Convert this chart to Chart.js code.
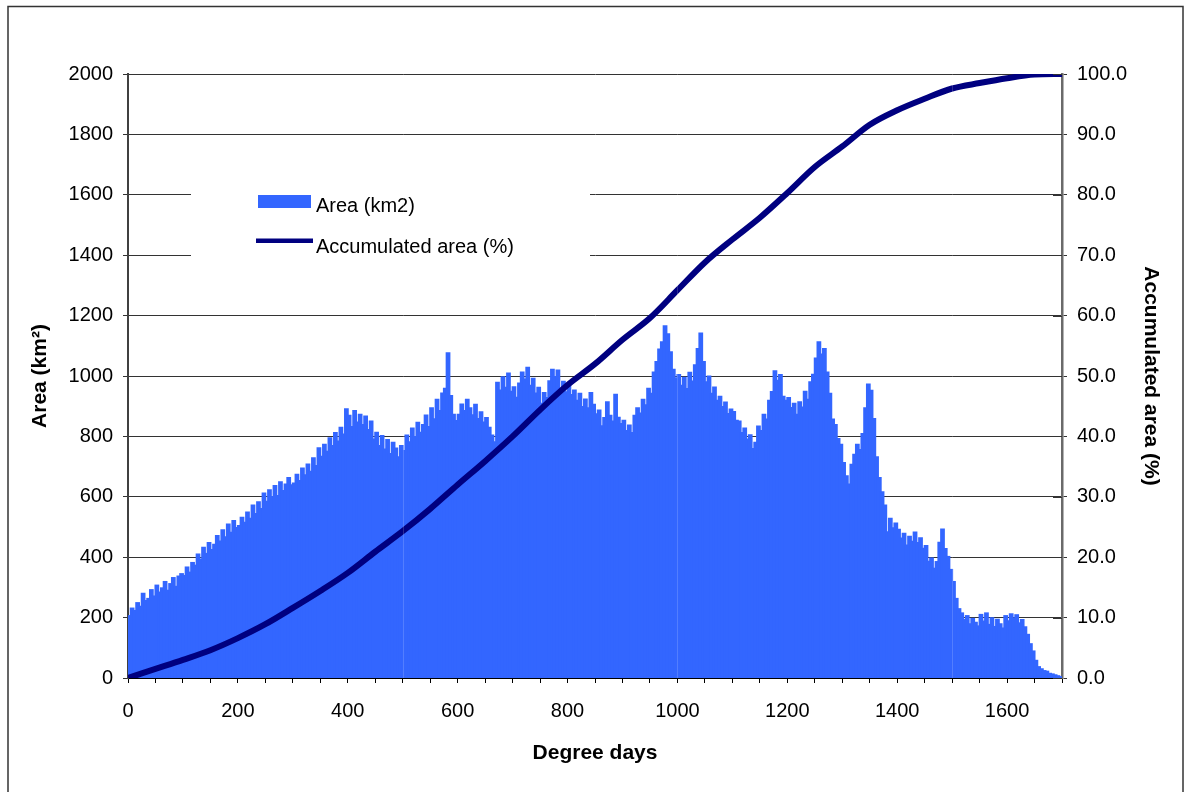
<!DOCTYPE html>
<html>
<head>
<meta charset="utf-8">
<script src="https://cdn.jsdelivr.net/npm/chart.js@4.4.0/dist/chart.umd.min.js"></script>
<style>
  html, body { margin: 0; padding: 0; background: #fff; }
  #wrap { width: 1191px; height: 792px; position: relative; }
</style>
</head>
<body>
<div id="wrap"><canvas id="c" width="1191" height="792"></canvas></div>
<script>
// Histogram bins are 5 degree days wide, starting at 0
const BIN_WIDTH = 5;

// Area (km2) per bin, one row per 100 degree days
const areaKm2 = [
  205, 230, 222, 248, 236, 279, 255, 262, 291, 270, 306, 283, 297, 318, 289, 311, 331, 302, 336, 344,      // 0-100
  338, 366, 349, 381, 372, 409, 392, 431, 411, 447, 424, 441, 470, 452, 489, 466, 508, 481, 520, 497,      // 100-200
  503, 531, 514, 548, 527, 571, 543, 582, 560, 611, 584, 622, 599, 636, 603, 648, 619, 641, 662, 638,      // 200-300
  644, 673, 652, 694, 671, 707, 683, 728, 702, 761, 733, 772, 749, 794, 768, 811, 783, 829, 806, 890,      // 300-400
  868, 831, 884, 846, 872, 838, 866, 821, 849, 790, 812, 768, 801, 757, 788, 742, 779, 760, 731, 768,      // 400-500
  752, 803, 781, 826, 798, 845, 812, 838, 869, 831, 893, 857, 921, 884, 942, 958, 1075, 934, 872, 851,     // 500-600
  872, 906, 884, 921, 893, 870, 905, 858, 880, 846, 861, 829, 803, 781, 978, 952, 996, 961, 1008, 948,     // 600-700
  963, 928, 975, 1012, 988, 1027, 968, 991, 942, 961, 908, 944, 927, 983, 1021, 997, 1018, 958, 981, 946,  // 700-800
  968, 937, 952, 918, 941, 897, 922, 893, 944, 905, 873, 886, 834, 861, 913, 868, 849, 938, 862, 841,      // 800-900
  852, 818, 836, 811, 868, 893, 876, 921, 903, 958, 941, 1012, 1046, 1088, 1112, 1165, 1138, 1079, 1021, 992, // 900-1000
  1003, 968, 994, 957, 1011, 982, 1036, 1089, 1141, 1046, 979, 998, 941, 962, 918, 931, 897, 912, 874, 889, // 1000-1100
  881, 852, 849, 811, 826, 790, 804, 758, 779, 833, 818, 872, 856, 918, 947, 1016, 984, 1003, 931, 918,    // 1100-1200
  927, 894, 908, 872, 913, 896, 948, 921, 979, 1004, 1058, 1112, 1071, 1089, 1012, 941, 856, 838, 791, 772, // 1200-1300
  712, 668, 641, 706, 739, 772, 755, 808, 893, 972, 951, 858, 731, 662, 615, 571, 483, 527, 496, 512,      // 1300-1400
  491, 462, 478, 439, 468, 451, 482, 447, 463, 428, 437, 385, 396, 362, 384, 448, 492, 427, 401, 358,      // 1400-1500
  318, 262, 228, 214, 192, 205, 178, 196, 183, 171, 209, 187, 214, 176, 198, 169, 193, 178, 164, 205,      // 1500-1600
  188, 211, 197, 208, 181, 192, 168, 143, 112, 88, 57, 36, 29, 23, 21, 14, 12, 9, 6, 3                     // 1600-1700
];

// Accumulated area (%) sampled every 50 degree days
const accumDegreeDays = [0, 50, 100, 150, 200, 250, 300, 350, 400, 450, 500, 550, 600, 650, 700, 750, 800, 850,
  900, 950, 1000, 1050, 1100, 1150, 1200, 1250, 1300, 1350, 1400, 1450, 1500, 1550, 1600, 1650, 1700];
const accumPct = [0, 1.5, 3.0, 4.6, 6.6, 8.9, 11.6, 14.4, 17.4, 20.9, 24.3, 28.0, 32.0, 35.9, 40.0, 44.4, 48.5, 52.0,
  56.0, 59.6, 64.2, 68.8, 72.6, 76.2, 80.3, 84.6, 88.0, 91.6, 94.0, 95.9, 97.6, 98.5, 99.3, 99.9, 100];

// Axis tick labels
const xTickLabels = [0, 200, 400, 600, 800, 1000, 1200, 1400, 1600];
const areaTicks = [0, 200, 400, 600, 800, 1000, 1200, 1400, 1600, 1800, 2000];
const pctTicks = [0, 10, 20, 30, 40, 50, 60, 70, 80, 90, 100];

const FONT = '"Liberation Sans", Arial, Helvetica, sans-serif';
Chart.defaults.font.family = FONT;
Chart.defaults.font.size = 20;
Chart.defaults.color = '#000';

// Outer frame around the whole figure
const framePlugin = {
  id: 'frame',
  afterDraw(chart) {
    const ctx = chart.ctx;
    ctx.save();
    ctx.strokeStyle = '#333';
    ctx.lineWidth = 1.5;
    ctx.strokeRect(8, 6.5, 1175, 800);
    ctx.restore();
  }
};

// Legend box placed inside the plot area
const insetLegend = {
  id: 'insetLegend',
  beforeDatasetsDraw(chart) {
    const ctx = chart.ctx;
    const ds = chart.data.datasets;
    ctx.save();
    ctx.fillStyle = '#fff';
    ctx.fillRect(191, 172, 399, 102);
    ctx.font = '20px ' + FONT;
    ctx.textBaseline = 'alphabetic';
    ctx.textAlign = 'left';
    // bar swatch
    ctx.fillStyle = ds[0].backgroundColor;
    ctx.fillRect(258, 195, 53, 13);
    ctx.fillStyle = '#000';
    ctx.fillText(ds[0].label, 316, 212);
    // line swatch
    ctx.fillStyle = ds[1].borderColor;
    ctx.fillRect(256, 238.5, 57, 4.5);
    ctx.fillStyle = '#000';
    ctx.fillText(ds[1].label, 316, 253);
    ctx.restore();
  }
};

// Faint seams in the fill at every 500 degree days, and inner tick marks on the right axis
const detailPlugin = {
  id: 'details',
  afterDatasetsDraw(chart) {
    const ctx = chart.ctx;
    const x = chart.scales.x, y = chart.scales.y, y1 = chart.scales.y1;
    ctx.save();
    ctx.strokeStyle = 'rgba(255,255,255,0.16)';
    ctx.lineWidth = 1;
    [500, 1000, 1500].forEach(v => {
      const px = Math.round(x.getPixelForValue(v)) + 0.5;
      ctx.beginPath();
      ctx.moveTo(px, y.top);
      ctx.lineTo(px, y.bottom);
      ctx.stroke();
    });
    ctx.strokeStyle = '#333';
    pctTicks.forEach(v => {
      const py = Math.round(y1.getPixelForValue(v)) + 0.5;
      ctx.beginPath();
      ctx.moveTo(chart.chartArea.right - 9, py);
      ctx.lineTo(chart.chartArea.right, py);
      ctx.stroke();
    });
    ctx.restore();
  }
};

new Chart(document.getElementById('c'), {
  type: 'bar',
  data: {
    datasets: [
      {
        type: 'bar',
        label: 'Area (km2)',
        data: areaKm2.map((v, i) => ({ x: i * BIN_WIDTH + BIN_WIDTH / 2, y: v })),
        backgroundColor: '#3366FF',
        borderWidth: 0,
        inflateAmount: 1,
        barPercentage: 1,
        categoryPercentage: 1,
        xAxisID: 'x',
        yAxisID: 'y',
        order: 1
      },
      {
        type: 'line',
        label: 'Accumulated area (%)',
        data: accumDegreeDays.map((d, i) => ({ x: d, y: accumPct[i] })),
        borderColor: '#000080',
        backgroundColor: '#000080',
        borderWidth: 6,
        pointRadius: 0,
        cubicInterpolationMode: 'monotone',
        fill: false,
        xAxisID: 'x',
        yAxisID: 'y1',
        order: 0
      }
    ]
  },
  options: {
    responsive: false,
    animation: false,
    devicePixelRatio: 1,
    layout: { padding: { top: 74, left: 0, right: 0, bottom: 0 } },
    plugins: {
      legend: { display: false },
      tooltip: { enabled: false }
    },
    scales: {
      x: {
        type: 'linear',
        position: 'bottom',
        min: 0,
        max: 1700,
        offset: false,
        grid: { display: true, drawOnChartArea: false, drawTicks: true, tickLength: 5, color: '#000', offset: false },
        border: { display: true, color: '#000', width: 2 },
        ticks: {
          stepSize: 50,
          autoSkip: false,
          maxRotation: 0,
          padding: 16,
          callback: v => xTickLabels.includes(v) ? String(v) : ''
        },
        title: {
          display: true,
          text: 'Degree days',
          font: { size: 21, weight: 'bold' },
          padding: { top: 0, bottom: 26 }
        },
        afterFit: s => { s.height = 114; }
      },
      y: {
        position: 'left',
        min: 0,
        max: 2000,
        afterBuildTicks: s => { s.ticks = areaTicks.map(v => ({ value: v })); },
        grid: { color: '#333', lineWidth: 1, tickLength: 5 },
        border: { display: true, color: '#404040', width: 2 },
        ticks: { padding: 10, callback: v => String(v) },
        title: {
          display: true,
          text: 'Area (km²)',
          font: { size: 21, weight: 'bold' },
          padding: { top: 28, bottom: 0 }
        },
        afterFit: s => { s.width = 128; }
      },
      y1: {
        position: 'right',
        min: 0,
        max: 100,
        afterBuildTicks: s => { s.ticks = pctTicks.map(v => ({ value: v })); },
        grid: { drawOnChartArea: false, color: '#333', tickLength: 5 },
        border: { display: true, color: '#6a6a6a', width: 2.5 },
        ticks: { padding: 10, callback: v => Number(v).toFixed(1) },
        title: {
          display: true,
          text: 'Accumulated area (%)',
          font: { size: 21, weight: 'bold' },
          padding: { top: 28, bottom: 0 }
        },
        afterFit: s => { s.width = 129; }
      }
    }
  },
  plugins: [insetLegend, detailPlugin, framePlugin]
});
</script>
</body>
</html>
